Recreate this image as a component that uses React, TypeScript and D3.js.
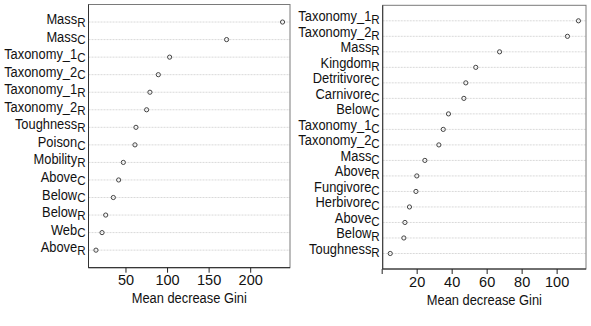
import React from "react";
import * as d3 from "d3";

// Variable importance, model 1 (left panel)
const leftNames = ["Mass", "Mass", "Taxonomy_1", "Taxonomy_2", "Taxonomy_1", "Taxonomy_2", "Toughness", "Poison", "Mobility", "Above", "Below", "Below", "Web", "Above"];
const leftSubs = ["R", "C", "C", "C", "R", "R", "R", "C", "R", "C", "C", "R", "C", "R"];
const leftValues = [238.3, 171.0, 102.5, 88.9, 78.8, 74.8, 62.0, 60.8, 46.8, 41.2, 34.8, 25.6, 21.2, 13.9];
const leftTicks = [50, 100, 150, 200];
const leftTickLabels = ["50", "100", "150", "200"];

// Variable importance, model 2 (right panel)
const rightNames = ["Taxonomy_1", "Taxonomy_2", "Mass", "Kingdom", "Detritivore", "Carnivore", "Below", "Taxonomy_1", "Taxonomy_2", "Mass", "Above", "Fungivore", "Herbivore", "Above", "Below", "Toughness"];
const rightSubs = ["R", "R", "R", "R", "C", "C", "C", "C", "C", "C", "R", "C", "C", "C", "R", "R"];
const rightValues = [112.2, 105.9, 67.1, 53.5, 47.8, 46.7, 37.9, 34.9, 32.4, 24.4, 19.8, 19.3, 15.6, 13.0, 12.4, 4.6];
const rightTicks = [0, 20, 40, 60, 80, 100];
const rightTickLabels = ["", "20", "40", "60", "80", "100"];

const xLabel = "Mean decrease Gini";
const FONT = "'Liberation Sans', Arial, Helvetica, sans-serif";
const SQUEEZE = 0.92;

type PanelProps = {
  names: string[];
  subs: string[];
  values: number[];
  ticks: number[];
  tickLabels: string[];
  left: number;
  right: number;
  top: number;
  bottom: number;
  labelShift: number;
};

function DotPanel({ names, subs, values, ticks, tickLabels, left, right, top, bottom, labelShift }: PanelProps) {
  const lo = d3.min(values)!;
  const hi = d3.max(values)!;
  const pad = (hi - lo) * 0.04;
  const x = d3.scaleLinear().domain([lo - pad, hi + pad]).range([left, right]);
  const n = values.length;
  const y = d3.scaleLinear().domain([-1, n]).range([top, bottom]);
  const fs = 14;

  return (
    <g>
      {/* dotted guide lines */}
      {values.map((_, i) => (
        <line
          key={"g" + i}
          x1={left}
          x2={right}
          y1={y(i)}
          y2={y(i)}
          stroke="#d9d9d9"
          strokeWidth={1}
          strokeDasharray="2,1"
        />
      ))}
      {/* box */}
      <rect x={left} y={top} width={right - left} height={bottom - top} fill="none" stroke="#7a7a7a" strokeWidth={1} />
      <line x1={left} x2={left} y1={top} y2={bottom} stroke="#333" strokeWidth={1} />
      <line x1={left} x2={right} y1={bottom} y2={bottom} stroke="#222" strokeWidth={1} />
      {/* points */}
      {values.map((v, i) => (
        <circle key={"p" + i} cx={x(v)} cy={y(i)} r={2.1} fill="none" stroke="#444" strokeWidth={1} />
      ))}
      {/* row labels with subscripts */}
      {names.map((nm, i) => (
        <g key={"l" + i} transform={`translate(${left - 3},${y(i) + labelShift}) scale(${SQUEEZE},1)`}>
          <text x={0} y={0} textAnchor="end" fontFamily={FONT} fontSize={fs} fill="#111">
            {nm}
            <tspan fontSize={fs * 0.9} dy={2.8}>
              {subs[i]}
            </tspan>
          </text>
        </g>
      ))}
      {/* x axis ticks */}
      {ticks.map((t, i) => (
        <g key={"t" + i}>
          <line x1={x(t)} x2={x(t)} y1={bottom} y2={bottom + 5} stroke="#222" strokeWidth={1} />
          <text x={x(t)} y={bottom + 17.5} textAnchor="middle" fontFamily={FONT} fontSize={14.5} fill="#111">
            {tickLabels[i]}
          </text>
        </g>
      ))}
      <g transform={`translate(${(left + right) / 2},${bottom + 35.6}) scale(${SQUEEZE},1)`}>
        <text x={0} y={0} textAnchor="middle" fontFamily={FONT} fontSize={14} fill="#111">
          {xLabel}
        </text>
      </g>
    </g>
  );
}

export default function App() {
  return (
    <svg width={591} height={326} style={{ position: "absolute", left: 0, top: 0, background: "#fff" }}>
      <rect width={591} height={326} fill="#fff" />
      <DotPanel
        names={leftNames}
        subs={leftSubs}
        values={leftValues}
        ticks={leftTicks}
        tickLabels={leftTickLabels}
        left={88.5}
        right={290}
        top={4.5}
        bottom={267.7}
        labelShift={2}
      />
      <DotPanel
        names={rightNames}
        subs={rightSubs}
        values={rightValues}
        ticks={rightTicks}
        tickLabels={rightTickLabels}
        left={382.7}
        right={586}
        top={5.3}
        bottom={269}
        labelShift={0.5}
      />
    </svg>
  );
}
